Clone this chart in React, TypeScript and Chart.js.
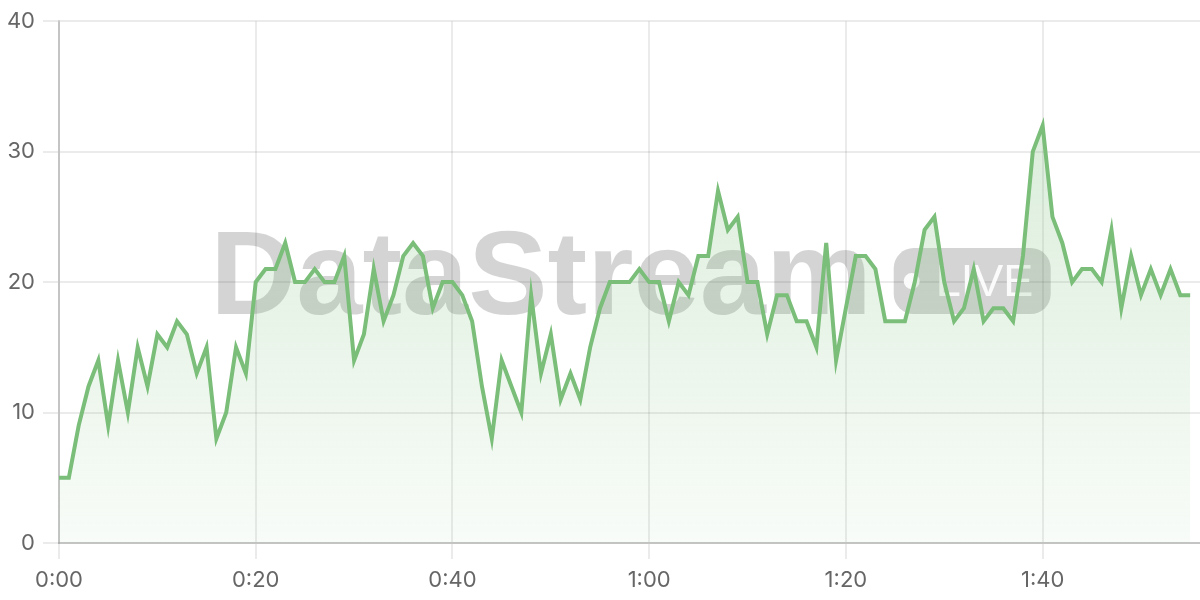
import React, { useEffect, useRef } from "react";
import { Chart, registerables } from "chart.js";

Chart.register(...registerables);

// Seconds elapsed (x) and measured values (y)
const values: number[] = [
  5, 5, 9, 12, 14, 9, 14, 10, 15, 12,
  16, 15, 17, 16, 13, 15, 8, 10, 15, 13,
  20, 21, 21, 23, 20, 20, 21, 20, 20, 22,
  14, 16, 21, 17, 19, 22, 23, 22, 18, 20,
  20, 19, 17, 12, 8, 14, 12, 10, 19, 13,
  16, 11, 13, 11, 15, 18, 20, 20, 20, 21,
  20, 20, 17, 20, 19, 22, 22, 27, 24, 25,
  20, 20, 16, 19, 19, 17, 17, 15, 23, 14,
  18, 22, 22, 21, 17, 17, 17, 20, 24, 25,
  20, 17, 18, 21, 17, 18, 18, 17, 22, 30,
  32, 25, 23, 20, 21, 21, 20, 24, 18, 22,
  19, 21, 19, 21, 19, 19,
];
const seconds: number[] = values.map((_, i) => i);

const xTickValues: number[] = [0, 20, 40, 60, 80, 100];
const xTickLabels: string[] = ["0:00", "0:20", "0:40", "1:00", "1:20", "1:40"];
const yTickValues: number[] = [0, 10, 20, 30, 40];

const watermarkText = "DataStream";
const badgeText = "LIVE";

const LINE = "rgb(122,190,122)";
const TICK_FONT = { family: "Inter", size: 22 };

const watermarkPlugin = {
  id: "watermark",
  beforeDatasetsDraw(chart: any) {
    const { ctx, chartArea } = chart;
    const cx = (chartArea.left + chartArea.right) / 2 + 1;
    const cy = (chartArea.top + chartArea.bottom) / 2;
    ctx.save();
    ctx.font = "bold 119px 'Liberation Sans'";
    const tw = ctx.measureText(watermarkText).width;
    const gap = 22;
    const bw = 157;
    const bh = 66;
    const total = tw + gap + bw;
    const x0 = cx - total / 2;
    const baseline = cy + 32;
    ctx.fillStyle = "rgba(0,0,0,0.17)";
    ctx.textBaseline = "alphabetic";
    ctx.textAlign = "left";
    ctx.fillText(watermarkText, x0, baseline);
    // badge
    const bx = x0 + tw + gap;
    const by = baseline - bh;
    const r = 20;
    ctx.beginPath();
    ctx.moveTo(bx + r, by);
    ctx.lineTo(bx + bw - r, by);
    ctx.arcTo(bx + bw, by, bx + bw, by + r, r);
    ctx.lineTo(bx + bw, by + bh - r);
    ctx.arcTo(bx + bw, by + bh, bx + bw - r, by + bh, r);
    ctx.lineTo(bx + r, by + bh);
    ctx.arcTo(bx, by + bh, bx, by + bh - r, r);
    ctx.lineTo(bx, by + r);
    ctx.arcTo(bx, by, bx + r, by, r);
    ctx.closePath();
    ctx.fill();
    ctx.fillStyle = "rgba(255,255,255,0.9)";
    ctx.beginPath();
    ctx.arc(bx + 18, by + bh / 2, 8, 0, Math.PI * 2);
    ctx.fill();
    ctx.font = "45px 'Liberation Sans'";
    ctx.textBaseline = "middle";
    ctx.fillText(badgeText, bx + 42, by + bh / 2 + 2);
    ctx.restore();
  },
};

export default function App() {
  const ref = useRef<HTMLCanvasElement | null>(null);

  useEffect(() => {
    if (!ref.current) return;
    const chart = new Chart(ref.current, {
      type: "line",
      data: {
        datasets: [
          {
            data: values.map((v, i) => ({ x: seconds[i], y: v })),
            borderColor: LINE,
            borderWidth: 4,
            pointRadius: 0,
            tension: 0,
            fill: "origin",
            backgroundColor: (c: any) => {
              const { chart } = c;
              const area = chart.chartArea;
              if (!area) return "rgba(122,190,122,0.15)";
              const g = chart.ctx.createLinearGradient(0, area.top, 0, area.bottom);
              g.addColorStop(0, "rgba(122,190,122,0.32)");
              g.addColorStop(1, "rgba(122,190,122,0.05)");
              return g;
            },
          },
        ],
      },
      options: {
        animation: false,
        responsive: true,
        maintainAspectRatio: false,
        layout: { padding: { top: 5, right: 0, bottom: 0, left: 0 } },
        plugins: {
          legend: { display: false },
          tooltip: { enabled: false },
        },
        scales: {
          x: {
            type: "linear",
            min: 0,
            max: 116,
            afterBuildTicks: (scale: any) => {
              scale.ticks = xTickValues.map((v) => ({ value: v }));
            },
            afterFit: (scale: any) => {
              scale.height = 57;
            },
            ticks: {
              includeBounds: false,
              autoSkip: false,
              maxRotation: 0,
              color: "#666",
              font: TICK_FONT,
              padding: 8,
              callback: (v: any) => {
                const i = xTickValues.indexOf(Number(v));
                return i >= 0 ? xTickLabels[i] : "";
              },
            },
            grid: {
              color: "rgba(0,0,0,0.08)",
              lineWidth: 2,
              tickLength: 16,
            },
            border: { color: "rgba(0,0,0,0.17)", width: 2 },
          },
          y: {
            min: 0,
            max: 40,
            afterBuildTicks: (scale: any) => {
              scale.ticks = yTickValues.map((v) => ({ value: v }));
            },
            afterFit: (scale: any) => {
              scale.width = 59;
            },
            ticks: {
              color: "#666",
              font: TICK_FONT,
              padding: 8,
            },
            grid: {
              color: "rgba(0,0,0,0.08)",
              lineWidth: 2,
              tickLength: 16,
            },
            border: { color: "rgba(0,0,0,0.17)", width: 2 },
          },
        },
      },
      plugins: [watermarkPlugin],
    });
    return () => chart.destroy();
  }, []);

  return (
    <div style={{ position: "absolute", left: 0, top: 0, width: 1200, height: 600, background: "#fff" }}>
      <canvas ref={ref} />
    </div>
  );
}
